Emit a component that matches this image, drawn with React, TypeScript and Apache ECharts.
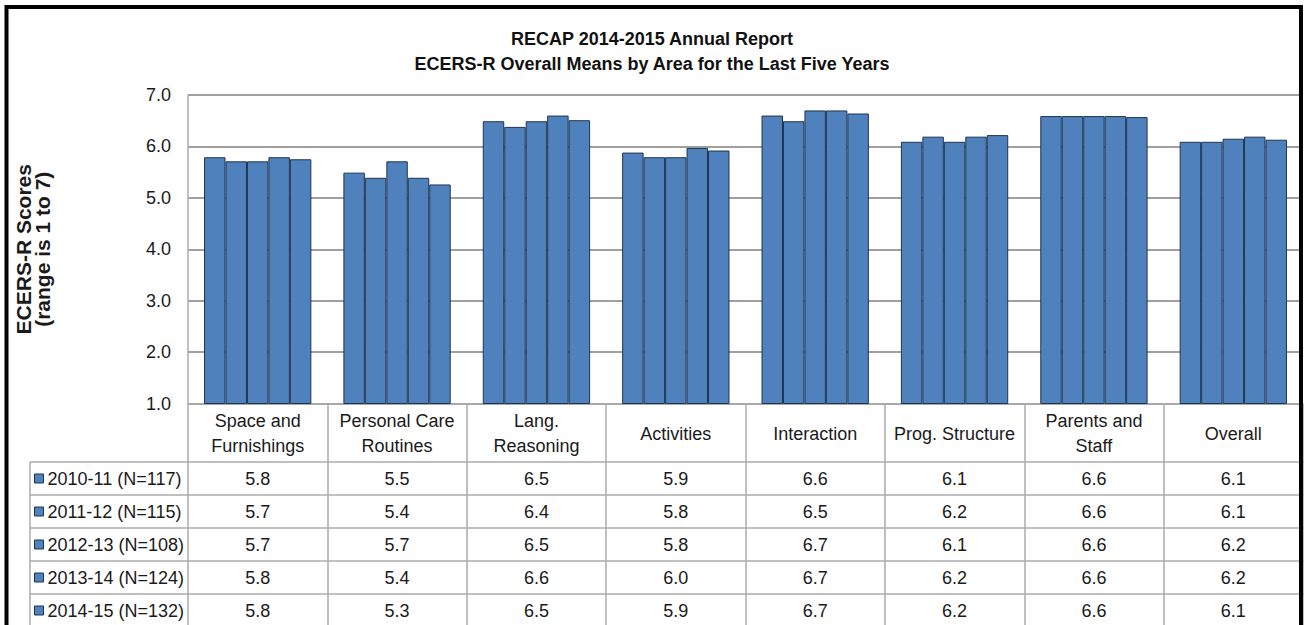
import React, { useEffect, useRef } from "react";
import * as echarts from "echarts";

const titleLines = ["RECAP 2014-2015 Annual Report", "ECERS-R Overall Means by Area for the Last Five Years"];
const yAxisTitle = "ECERS-R Scores\n(range is 1 to 7)";

const categories = [
  "Space and\nFurnishings",
  "Personal Care\nRoutines",
  "Lang.\nReasoning",
  "Activities",
  "Interaction",
  "Prog. Structure",
  "Parents and\nStaff",
  "Overall",
];

const seriesNames = [
  "2010-11 (N=117)",
  "2011-12 (N=115)",
  "2012-13 (N=108)",
  "2013-14 (N=124)",
  "2014-15 (N=132)",
];

// bar heights
const values2010 = [5.79, 5.49, 6.49, 5.88, 6.6, 6.09, 6.59, 6.09];
const values2011 = [5.71, 5.39, 6.38, 5.79, 6.49, 6.19, 6.59, 6.09];
const values2012 = [5.71, 5.71, 6.49, 5.79, 6.7, 6.09, 6.59, 6.15];
const values2013 = [5.79, 5.39, 6.6, 5.97, 6.7, 6.19, 6.59, 6.19];
const values2014 = [5.75, 5.26, 6.51, 5.92, 6.64, 6.22, 6.57, 6.13];

// data table text as printed
const table2010 = ["5.8", "5.5", "6.5", "5.9", "6.6", "6.1", "6.6", "6.1"];
const table2011 = ["5.7", "5.4", "6.4", "5.8", "6.5", "6.2", "6.6", "6.1"];
const table2012 = ["5.7", "5.7", "6.5", "5.8", "6.7", "6.1", "6.6", "6.2"];
const table2013 = ["5.8", "5.4", "6.6", "6.0", "6.7", "6.2", "6.6", "6.2"];
const table2014 = ["5.8", "5.3", "6.5", "5.9", "6.7", "6.2", "6.6", "6.1"];

const yTicks = [1, 2, 3, 4, 5, 6, 7];

const seriesValues = [values2010, values2011, values2012, values2013, values2014];
const tableRows = [table2010, table2011, table2012, table2013, table2014];

const FONT = "'Liberation Sans', Arial, sans-serif";
const TEXT = "#1a1a1a";
const TABLE_LINE = "#ababab";

const W = 1304;
const H = 625;
const GRID_LEFT = 188;
const GRID_RIGHT = 1;
const GRID_TOP = 95;
const AXIS_Y = 403.5;
const HEADER_H = 58.5;
const ROW_H = 33;
const TABLE_LEFT = 30;

export default function App() {
  const ref = useRef<HTMLDivElement>(null);

  useEffect(() => {
    if (!ref.current) return;
    const chart = echarts.init(ref.current, undefined, { renderer: "svg" });

    const rowAxes = tableRows.map((row, r) => ({
      type: "category",
      gridIndex: 0,
      position: "bottom",
      data: categories,
      offset: HEADER_H + ROW_H * r + ROW_H / 2,
      axisLine: { show: false },
      axisTick: { show: false },
      splitLine: { show: false },
      axisLabel: {
        interval: 0,
        margin: 0,
        verticalAlign: "middle",
        fontFamily: FONT,
        fontSize: 18,
        color: TEXT,
        formatter: (_v: string, i: number) => row[i],
      },
    }));

    const graphics: any[] = [];
    for (let r = 0; r < tableRows.length; r++) {
      const y = AXIS_Y + HEADER_H + ROW_H * r;
      graphics.push({
        type: "line",
        shape: { x1: TABLE_LEFT, y1: y, x2: W, y2: y },
        style: { stroke: TABLE_LINE, lineWidth: 1.5 },
        z: 50,
      });
    }
    graphics.push({
      type: "line",
      shape: { x1: TABLE_LEFT, y1: AXIS_Y + HEADER_H, x2: TABLE_LEFT, y2: H + 10 },
      style: { stroke: TABLE_LINE, lineWidth: 1.5 },
      z: 50,
    });
    graphics.push({
      type: "rect",
      shape: { x: 6.5, y: 7, width: 1294.5, height: 700 },
      style: { fill: "none", stroke: "#000", lineWidth: 4 },
      z: 100,
    });

    chart.setOption({
      animation: false,
      backgroundColor: "#ffffff",
      title: {
        text: titleLines.join("\n"),
        left: "center",
        top: 26,
        padding: 0,
        textStyle: {
          fontFamily: FONT,
          fontSize: 18,
          fontWeight: "bold",
          color: "#111",
          lineHeight: 25,
        },
      },
      legend: {
        orient: "vertical",
        left: 34,
        top: AXIS_Y + HEADER_H + 6.5,
        padding: 0,
        itemGap: 13,
        itemWidth: 9,
        itemHeight: 9,
        icon: "rect",
        data: seriesNames,
        selectedMode: false,
        itemStyle: { borderColor: "#1f3550", borderWidth: 1 },
        textStyle: { fontFamily: FONT, fontSize: 18, color: TEXT, lineHeight: 20, padding: [0, 0, 0, -1] },
      },
      grid: {
        left: GRID_LEFT,
        right: GRID_RIGHT,
        top: GRID_TOP,
        bottom: H - AXIS_Y,
        containLabel: false,
      },
      xAxis: [
        {
          type: "category",
          gridIndex: 0,
          position: "bottom",
          data: categories,
          axisLine: { show: true, lineStyle: { color: TABLE_LINE, width: 1.5 } },
          axisTick: {
            show: true,
            interval: 0,
            length: 240,
            lineStyle: { color: TABLE_LINE, width: 1.5 },
          },
          splitLine: { show: false },
          axisLabel: {
            interval: 0,
            margin: 30,
            verticalAlign: "middle",
            fontFamily: FONT,
            fontSize: 18,
            lineHeight: 25,
            color: TEXT,
          },
        },
        ...rowAxes,
      ],
      yAxis: {
        type: "value",
        min: yTicks[0],
        max: yTicks[yTicks.length - 1],
        interval: 1,
        name: yAxisTitle,
        nameLocation: "middle",
        nameGap: 136,
        nameTextStyle: {
          fontFamily: FONT,
          fontSize: 21,
          fontWeight: "bold",
          color: TEXT,
          lineHeight: 19,
        },
        axisLine: { show: true, lineStyle: { color: TABLE_LINE, width: 1.5 } },
        axisTick: { show: false },
        splitLine: { show: true, lineStyle: { color: "#7f7f7f", width: 1.5 } },
        axisLabel: {
          margin: 17,
          fontFamily: FONT,
          fontSize: 18,
          color: TEXT,
          formatter: (v: number) => v.toFixed(1),
        },
      },
      series: seriesNames.map((name, s) => ({
        name,
        type: "bar",
        xAxisIndex: 0,
        data: seriesValues[s],
        barGap: "0%",
        barCategoryGap: "23%",
        itemStyle: { color: "#4f81bd", borderColor: "#1f3550", borderWidth: 1 },
      })),
      graphic: graphics,
    });

    return () => chart.dispose();
  }, []);

  return (
    <div
      ref={ref}
      style={{ position: "absolute", left: 0, top: 0, width: W, height: H }}
    />
  );
}
